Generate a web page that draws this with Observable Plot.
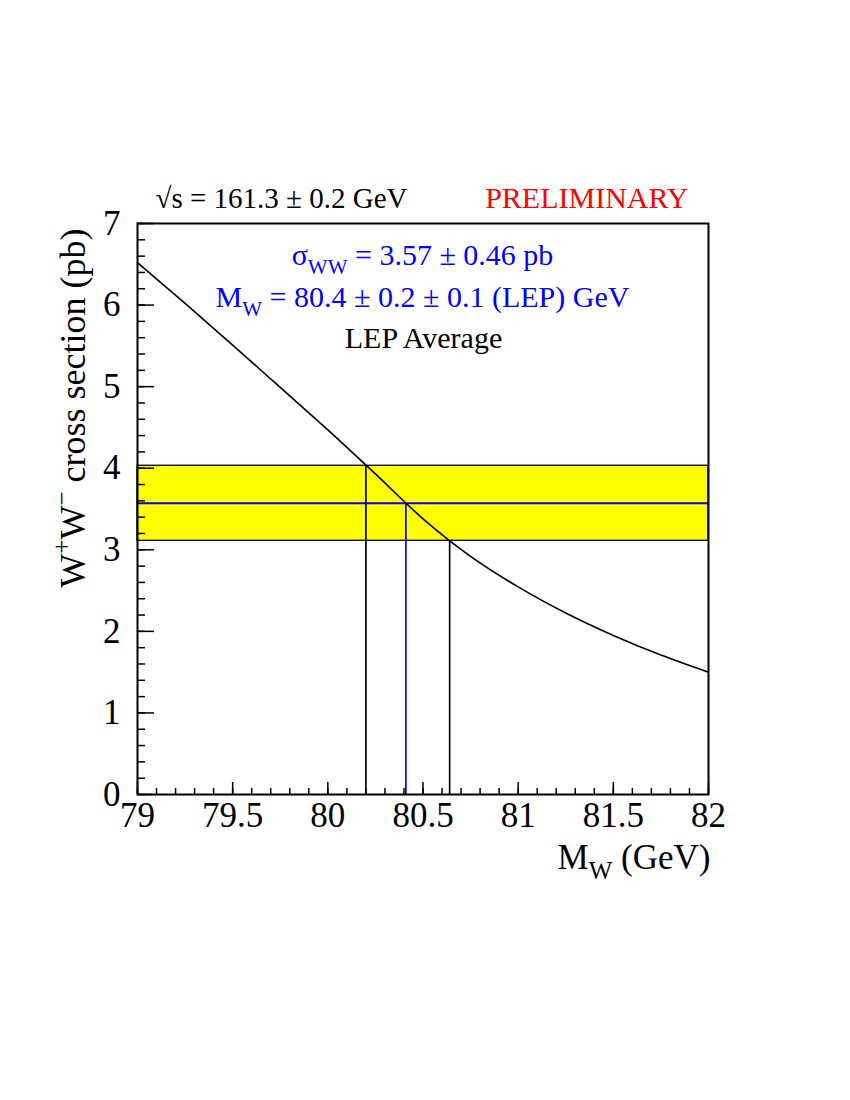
<!DOCTYPE html>
<html>
<head>
<meta charset="utf-8">
<script src="https://cdn.jsdelivr.net/npm/d3@7"></script>
<script src="https://cdn.jsdelivr.net/npm/@observablehq/plot@0.6"></script>
<style>
  html, body { margin: 0; padding: 0; background: white; }
</style>
</head>
<body>
<script>
// ---- data ----
const massGeV = [79.0, 79.25, 79.5, 79.75, 80.0, 80.25, 80.5, 80.75, 81.0, 81.25, 81.5, 81.75, 82.0];
const sigmaPb = [6.52, 6.02, 5.51, 4.99, 4.47, 3.93, 3.38, 2.92, 2.545, 2.225, 1.95, 1.71, 1.50];
const sigmaMeas = [3.57];
const sigmaErr = [0.46];
const mwCentral = [80.41];
const mwBand = [80.2, 80.64];
const xMajor = [79, 79.5, 80, 80.5, 81, 81.5, 82];
const xMajorLabels = ["79", "79.5", "80", "80.5", "81", "81.5", "82"];
const yMajor = [0, 1, 2, 3, 4, 5, 6, 7];
const yMajorLabels = ["0", "1", "2", "3", "4", "5", "6", "7"];
const xMinor = d3.ticks(79, 82, 30);
const yMinor = d3.ticks(0, 7, 35);

const curve = massGeV.map((m, i) => ({m, s: sigmaPb[i]}));
const band = [{lo: sigmaMeas[0] - sigmaErr[0], hi: sigmaMeas[0] + sigmaErr[0]}];
const verticals = [
  {x: mwBand[0], top: band[0].hi, color: "black"},
  {x: mwBand[1], top: band[0].lo, color: "black"},
  {x: mwCentral[0], top: sigmaMeas[0], color: "blue"}
];

const serif = "'Liberation Serif', 'Times New Roman', serif";
const fs = 35;

const plot = Plot.plot({
  width: 850,
  height: 1100,
  marginLeft: 137,
  marginRight: 142,
  marginTop: 223,
  marginBottom: 306,
  x: {domain: [79, 82]},
  y: {domain: [0, 7]},
  style: {fontFamily: serif, background: "white", color: "black"},
  marks: [
    Plot.rect(band, {x1: 79, x2: 82, y1: "lo", y2: "hi", fill: "#ffff00", stroke: "black", strokeWidth: 1.3}),
    Plot.ruleY(sigmaMeas, {stroke: "blue", strokeWidth: 2}),
    Plot.ruleX(verticals, {x: "x", y1: 0, y2: "top", stroke: (d) => d.color, strokeWidth: 1.7}),
    Plot.line(curve, {x: "m", y: "s", stroke: "black", strokeWidth: 1.6, curve: "catmull-rom"}),
    // y axis ticks (inward)
    Plot.axisY(yMinor, {tickSize: -8, fill: "none", label: null, strokeWidth: 1.5}),
    Plot.axisY(yMajor, {tickSize: -17, fill: "none", label: null, strokeWidth: 1.5}),
    Plot.axisY(yMajor, {tickSize: 0, tickPadding: 17, tickFormat: (d, i) => yMajorLabels[i], label: null, fontSize: fs, fontFamily: serif}),
    // x axis ticks (inward)
    Plot.axisX(xMinor, {tickSize: -6, fill: "none", label: null, strokeWidth: 1.5}),
    Plot.axisX(xMajor, {tickSize: -12, fill: "none", label: null, strokeWidth: 1.5}),
    Plot.axisX(xMajor, {tickSize: 0, tickPadding: 8, tickFormat: (d, i) => xMajorLabels[i], label: null, fontSize: fs, fontFamily: serif}),
    Plot.frame({stroke: "black", strokeWidth: 2}),
    // annotations
    Plot.text(["√s = 161.3 ± 0.2 GeV"], {frameAnchor: "top-left", textAnchor: "start", lineAnchor: "middle", dx: 18, dy: -25, fontSize: 29, fontFamily: serif, fill: "black"}),
    Plot.text(["PRELIMINARY"], {frameAnchor: "top-left", textAnchor: "end", lineAnchor: "middle", dx: 551, dy: -25, fontSize: 30, fontFamily: serif, fill: "red"}),
    Plot.text(["σWW = 3.57 ± 0.46 pb"], {frameAnchor: "top-left", textAnchor: "middle", lineAnchor: "middle", dx: 285, dy: 32, fontSize: 30, fontFamily: serif, fill: "blue"}),
    Plot.text(["MW = 80.4 ± 0.2 ± 0.1 (LEP) GeV"], {frameAnchor: "top-left", textAnchor: "middle", lineAnchor: "middle", dx: 285, dy: 74, fontSize: 30, fontFamily: serif, fill: "blue"}),
    Plot.text(["LEP Average"], {frameAnchor: "top-left", textAnchor: "middle", lineAnchor: "middle", dx: 286, dy: 115, fontSize: 30, fontFamily: serif, fill: "black"}),
    Plot.text(["MW (GeV)"], {frameAnchor: "bottom-right", textAnchor: "end", lineAnchor: "middle", dx: 2, dy: 63, fontSize: fs, fontFamily: serif, fill: "black"}),
    Plot.text(["W+W- cross section (pb)"], {frameAnchor: "top-left", textAnchor: "end", lineAnchor: "middle", rotate: -90, dx: -64, dy: 5, fontSize: 36, fontFamily: serif, fill: "black"})
  ]
});

document.body.appendChild(plot);

// rich text: sub/superscripts as tspans
const svg = d3.select(plot);
function rich(match, parts) {
  svg.selectAll("text").filter(function () { return this.textContent === match; }).each(function () {
    const t = d3.select(this);
    const base = parseFloat(getComputedStyle(this).fontSize) || 30;
    t.text(null);
    let cur = 0;
    for (const [str, kind] of parts) {
      const target = kind === "sub" ? 0.3 * base : kind === "sup" ? -0.42 * base : 0;
      const ts = t.append("tspan").text(str);
      if (target !== cur) ts.attr("dy", target - cur);
      if (kind) ts.attr("font-size", Math.round(base * 0.7));
      cur = target;
    }
  });
}
rich("σWW = 3.57 ± 0.46 pb", [["σ"], ["WW", "sub"], [" = 3.57 ± 0.46 pb"]]);
rich("MW = 80.4 ± 0.2 ± 0.1 (LEP) GeV", [["M"], ["W", "sub"], [" = 80.4 ± 0.2 ± 0.1 (LEP) GeV"]]);
rich("MW (GeV)", [["M"], ["W", "sub"], [" (GeV)"]]);
rich("W+W- cross section (pb)", [["W"], ["+", "sup"], ["W"], ["−", "sup"], [" cross section (pb)"]]);
</script>
</body>
</html>
